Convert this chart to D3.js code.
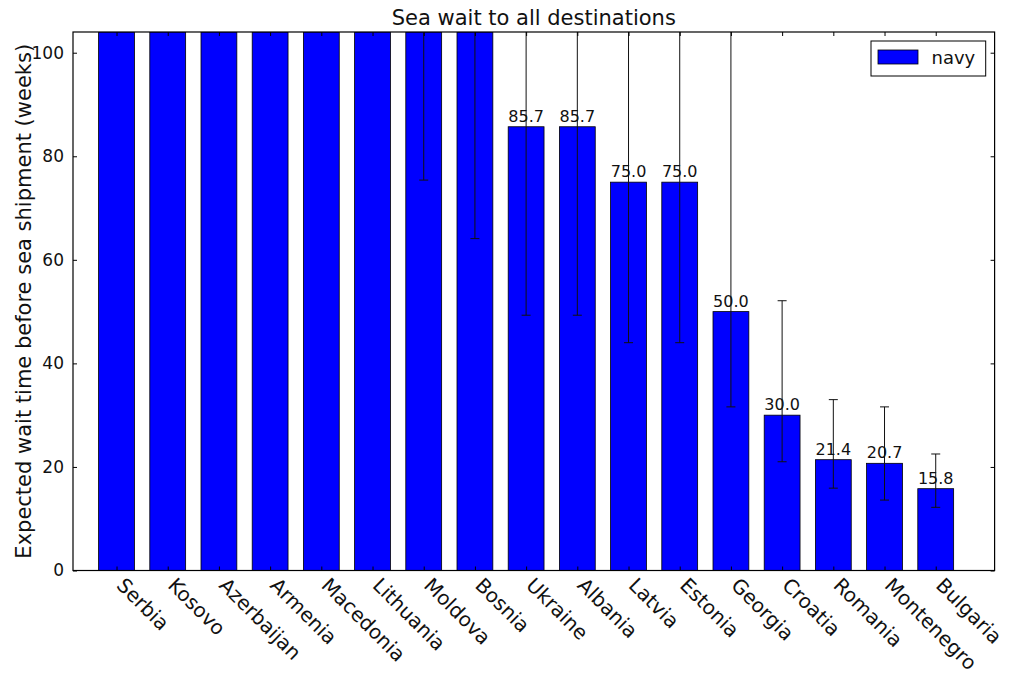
<!DOCTYPE html>
<html>
<head>
<meta charset="utf-8">
<script src="https://cdn.jsdelivr.net/npm/d3@7"></script>
<style>
  html, body { margin: 0; padding: 0; background: #ffffff; }
  svg { display: block; font-family: "DejaVu Sans", sans-serif; }
</style>
</head>
<body>
<svg id="chart" width="1010" height="677"></svg>
<script>
// ---- data ----
const categories = ["Serbia", "Kosovo", "Azerbaijan", "Armenia", "Macedonia", "Lithuania", "Moldova", "Bosnia",
  "Ukraine", "Albania", "Latvia", "Estonia", "Georgia", "Croatia", "Romania", "Montenegro", "Bulgaria"];
// Infinity = unbounded wait (bar runs off the top of the axis)
const waitWeeks = [Infinity, Infinity, Infinity, Infinity, Infinity, Infinity, Infinity, Infinity,
  85.7, 85.7, 75.0, 75.0, 50.0, 30.0, 21.4, 20.7, 15.8];
const errLower = [null, null, null, null, null, null, 75.4, 64.1,
  49.3, 49.3, 44.0, 44.0, 31.6, 21.0, 15.9, 13.6, 12.2];
const errUpper = [null, null, null, null, null, null, Infinity, Infinity,
  122.0, 122.0, 106.0, 106.0, 120.0, 52.1, 33.0, 31.6, 22.5];
const yTicks = [0, 20, 40, 60, 80, 100];
const seriesName = "navy";
const chartTitle = "Sea wait to all destinations";
const yLabel = "Expected wait time before sea shipment (weeks)";

// ---- layout ----
const svg = d3.select("#chart");
const L = 73, R = 994.6, T = 32, B = 570.5;
const x = d3.scaleLinear().domain([0, categories.length + 1]).range([L, R]);
const y = d3.scaleLinear().domain([0, 104]).range([B, T]).clamp(true);
const barOffset = 0.5, barWidth = 0.7;
const cx = i => x(i + barOffset + barWidth / 2);

const data = categories.map((c, i) => ({c, i, v: waitWeeks[i], lo: errLower[i], hi: errUpper[i]}));

svg.append("defs").append("clipPath").attr("id", "plotclip")
  .append("rect").attr("x", L).attr("y", T).attr("width", R - L).attr("height", B - T);

const plot = svg.append("g").attr("clip-path", "url(#plotclip)");

// bars
plot.selectAll("rect.bar").data(data).join("rect")
  .attr("class", "bar")
  .attr("x", d => x(d.i + barOffset))
  .attr("width", d => x(d.i + barOffset + barWidth) - x(d.i + barOffset))
  .attr("y", d => y(d.v))
  .attr("height", d => y(0) - y(d.v))
  .attr("fill", "#0000ff")
  .attr("stroke", "#000")
  .attr("stroke-width", 0.8);

// error bars
const eb = data.filter(d => d.lo != null);
plot.selectAll("line.err").data(eb).join("line")
  .attr("class", "err")
  .attr("x1", d => cx(d.i)).attr("x2", d => cx(d.i))
  .attr("y1", d => y(d.lo)).attr("y2", d => y(d.hi))
  .attr("stroke", "#111").attr("stroke-width", 1);
const capW = 4.5;
["lo", "hi"].forEach(k => {
  plot.selectAll("line.cap" + k).data(eb.filter(d => d[k] < 104)).join("line")
    .attr("class", "cap" + k)
    .attr("x1", d => cx(d.i) - capW).attr("x2", d => cx(d.i) + capW)
    .attr("y1", d => y(d[k])).attr("y2", d => y(d[k]))
    .attr("stroke", "#111").attr("stroke-width", 1);
});

// value labels
svg.selectAll("text.val").data(data.filter(d => isFinite(d.v))).join("text")
  .attr("class", "val")
  .attr("x", d => cx(d.i))
  .attr("y", d => y(d.v) - 5)
  .attr("text-anchor", "middle")
  .attr("font-size", 16)
  .attr("fill", "#111")
  .text(d => d3.format(".1f")(d.v));

// frame
svg.append("rect").attr("x", L).attr("y", T).attr("width", R - L).attr("height", B - T)
  .attr("fill", "none").attr("stroke", "#000").attr("stroke-width", 1.2);

// axes (ticks inward)
const tickLen = 4;
const yLeft = d3.axisLeft(y).tickValues(yTicks).tickSizeInner(-tickLen).tickSizeOuter(0).tickPadding(9);
const gy = svg.append("g").attr("transform", `translate(${L},0)`).call(yLeft);
gy.select(".domain").remove();
gy.selectAll("text").attr("font-size", 17).attr("fill", "#111").attr("font-family", "DejaVu Sans, sans-serif");
const yRight = d3.axisRight(y).tickValues(yTicks).tickSizeInner(-tickLen).tickSizeOuter(0).tickFormat("");
const gyr = svg.append("g").attr("transform", `translate(${R},0)`).call(yRight);
gyr.select(".domain").remove();

const xTickVals = data.map(d => d.i + barOffset + barWidth / 2);
const xBottom = d3.axisBottom(x).tickValues(xTickVals).tickSizeInner(-tickLen).tickSizeOuter(0).tickFormat("");
const gx = svg.append("g").attr("transform", `translate(0,${B})`).call(xBottom);
gx.select(".domain").remove();
const xTop = d3.axisTop(x).tickValues(xTickVals).tickSizeInner(-tickLen).tickSizeOuter(0).tickFormat("");
const gxt = svg.append("g").attr("transform", `translate(0,${T})`).call(xTop);
gxt.select(".domain").remove();

// rotated category labels
svg.selectAll("text.cat").data(data).join("text")
  .attr("class", "cat")
  .attr("transform", d => `translate(${cx(d.i) - 1},${B + 16}) rotate(45)`)
  .attr("text-anchor", "start")
  .attr("font-size", 20)
  .attr("fill", "#111")
  .text(d => d.c);

// title
svg.append("text").attr("x", (L + R) / 2).attr("y", 25)
  .attr("text-anchor", "middle").attr("font-size", 21).attr("fill", "#111")
  .text(chartTitle);

// y label
svg.append("text").attr("transform", `translate(31,${(T + B) / 2}) rotate(-90)`)
  .attr("text-anchor", "middle").attr("font-size", 21).attr("fill", "#111")
  .text(yLabel);

// legend
const lg = svg.append("g");
lg.append("rect").attr("x", 871).attr("y", 41).attr("width", 114.7).attr("height", 35)
  .attr("fill", "#fff").attr("stroke", "#000").attr("stroke-width", 1);
lg.append("rect").attr("x", 878).attr("y", 50).attr("width", 40).attr("height", 14)
  .attr("fill", "#0000ff").attr("stroke", "#000").attr("stroke-width", 0.8);
lg.append("text").attr("x", 931.5).attr("y", 64).attr("font-size", 18).attr("fill", "#111")
  .text(seriesName);
</script>
</body>
</html>
